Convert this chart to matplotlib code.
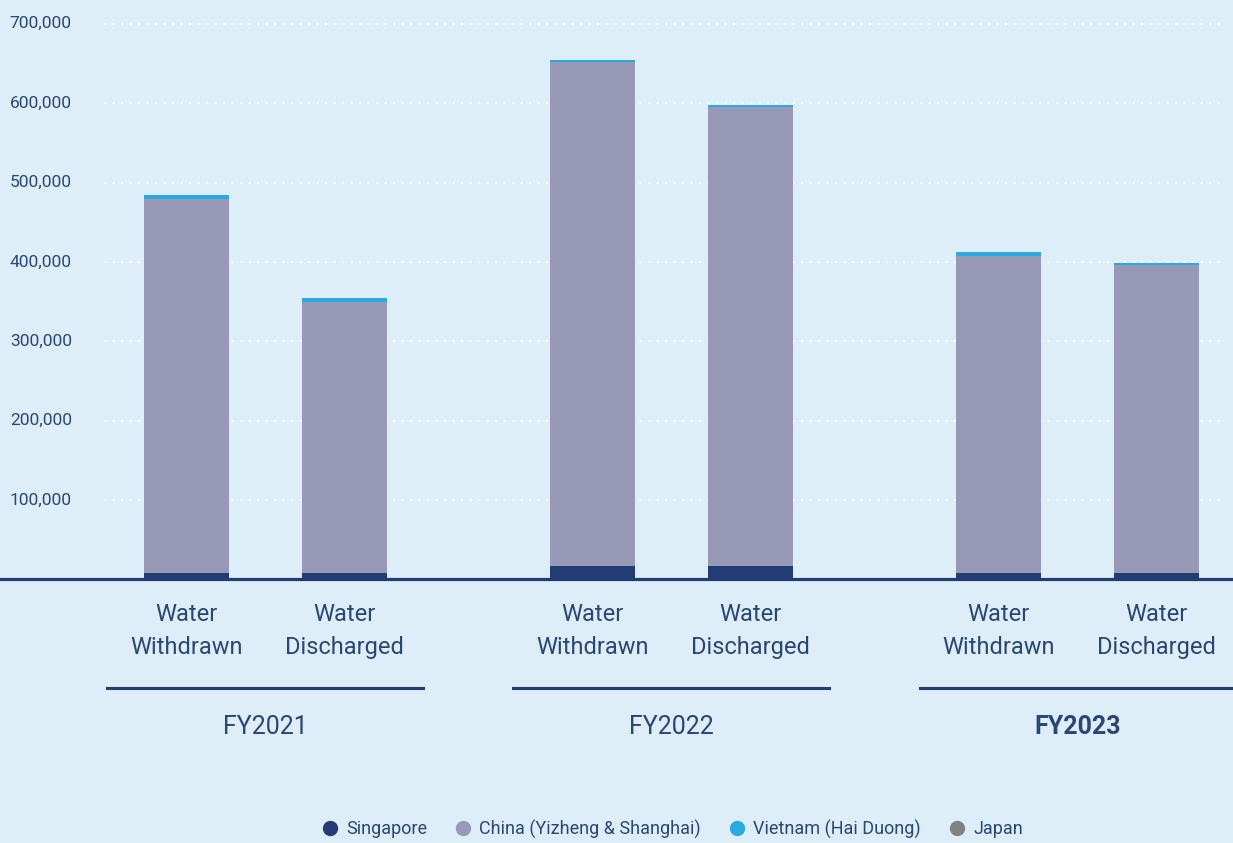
import numpy as np
import matplotlib.pyplot as plt
from matplotlib.lines import Line2D
import matplotlib.transforms as mtransforms

# data (cubic metres)
years = ['FY2021', 'FY2022', 'FY2023']
measures = ['Water\nWithdrawn', 'Water\nDischarged']
singapore = [8000, 8000, 17000, 17000, 8000, 8000]
china = [471500, 341500, 635000, 578500, 399500, 388000]
vietnam = [5000, 5000, 2500, 2500, 5000, 2500]
japan = [0, 0, 0, 0, 0, 0]
y_ticks = [100000, 200000, 300000, 400000, 500000, 600000, 700000]

series = [
    ('Singapore', singapore, '#233c73'),
    ('China (Yizheng & Shanghai)', china, '#9899b6'),
    ('Vietnam (Hai Duong)', vietnam, '#29aae1'),
    ('Japan', japan, '#818181'),
]

bg = '#ddeef9'
navy = '#233d72'
text_col = '#2b4676'

plt.rcParams['font.family'] = ['Roboto', 'DejaVu Sans']

fig = plt.figure(figsize=(12.33, 8.43), dpi=100)
fig.patch.set_facecolor(bg)
ax = fig.add_axes([0, 0.3128, 1, 0.6872])
ax.set_facecolor(bg)

# bar positions: two bars per year, wider gap between years
group_gap = 2.57
x = []
for g in range(len(years)):
    for m in range(len(measures)):
        x.append(g * group_gap + m)
x = np.array(x)
width = 0.538

ax.set_xlim(-1.18, 6.624)
ax.set_ylim(0, 730000)

# dotted white grid
for t in y_ticks:
    ax.axhline(t, xmin=0.085, xmax=0.991, color='white', lw=1.7,
               linestyle=(0, (0.1, 3.5)), dash_capstyle='round', zorder=1)
    ax.text(0.008, t, f'{t:,}', transform=ax.get_yaxis_transform(),
            ha='left', va='center', fontsize=12.5, color=text_col)

bottom = np.zeros(len(x))
for name, vals, col in series:
    vals = np.array(vals, dtype=float)
    ax.bar(x, vals, width, bottom=bottom, color=col, zorder=2, label=name)
    bottom += vals

ax.axhline(0, color=navy, lw=2.3, zorder=3, clip_on=False)

for s in ax.spines.values():
    s.set_visible(False)
ax.set_xticks([])
ax.set_yticks([])

# category labels, separators and year labels below the axis
trans = mtransforms.blended_transform_factory(ax.transData, fig.transFigure)
for i, xi in enumerate(x):
    ax.text(xi, 0.252, measures[i % 2], transform=trans, ha='center',
            va='center', fontsize=17, color=text_col, linespacing=1.55)
for g, yr in enumerate(years):
    c = g * group_gap + 0.5
    ax.add_line(Line2D([c - 1.0, c + 1.0], [0.1839, 0.1839], transform=trans,
                       color=navy, lw=2.2, clip_on=False))
    ax.text(c, 0.1376, yr, transform=trans, ha='center', va='center',
            fontsize=18, color=text_col,
            fontweight='bold' if yr == 'FY2023' else 'normal')

handles = [Line2D([], [], marker='o', linestyle='none', markersize=10,
                  markerfacecolor=col, markeredgecolor=col)
           for _, _, col in series]
fig.legend(handles, [s[0] for s in series], loc='center',
           bbox_to_anchor=(0.545, 0.0166), ncol=4, frameon=False,
           fontsize=13, labelcolor=text_col, handletextpad=0.4,
           columnspacing=1.5, handlelength=1.0)

fig.savefig('out.png', dpi=100, facecolor=bg)
